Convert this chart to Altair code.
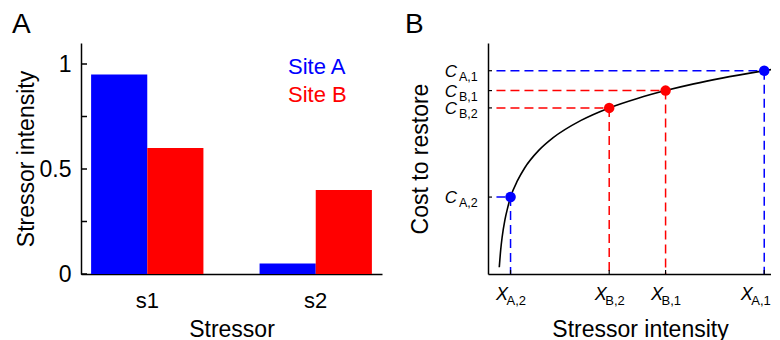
import altair as alt
import pandas as pd

FONT = "Liberation Sans, Arial, Helvetica, sans-serif"
BLUE = "#0000FF"
RED = "#FF0000"

# ---------------- data ----------------
sites = ["Site A", "Site B"]
site_colors = [BLUE, RED]
stressors = ["s1", "s2"]
site_a_intensity = [0.95, 0.05]
site_b_intensity = [0.60, 0.40]
a_tick_values = [0, 0.25, 0.5, 0.75, 1]

point_names = ["A,1", "B,1", "B,2", "A,2"]
point_sites = ["Site A", "Site B", "Site B", "Site A"]
point_intensity = [0.95, 0.60, 0.40, 0.05]
point_cost = [0.880, 0.794, 0.719, 0.333]

curve_intensity = [0.01, 0.015, 0.02, 0.03, 0.04, 0.05, 0.075, 0.1, 0.15,
                   0.2, 0.3, 0.4, 0.5, 0.6, 0.7, 0.8, 0.95, 1.0]
curve_cost = [0.029, 0.104, 0.158, 0.234, 0.288, 0.333, 0.405, 0.459, 0.535,
              0.589, 0.665, 0.719, 0.760, 0.794, 0.823, 0.848, 0.880, 0.890]

W_A, W_B, H = 301, 283, 231

color_scale = alt.Scale(domain=sites, range=site_colors)
X_TITLE_B = "Stressor intensity"
Y_TITLE_B = "Cost to restore"

# ---------------- panel A ----------------
bars_df = pd.DataFrame({
    "stressor": stressors * 2,
    "site": [sites[0]] * 2 + [sites[1]] * 2,
    "value": site_a_intensity + site_b_intensity,
})

bars = alt.Chart(bars_df).mark_bar().encode(
    x=alt.X("stressor:N",
            scale=alt.Scale(paddingInner=1 / 3, paddingOuter=0.06),
            axis=alt.Axis(title="Stressor", labelAngle=0, ticks=False, tickSize=0,
                          labelPadding=33, labelBaseline="alphabetic",
                          labelFontSize=22, titleY=62, titleBaseline="alphabetic")),
    xOffset=alt.XOffset("site:N", scale=alt.Scale(domain=sites, paddingInner=0, paddingOuter=0)),
    y=alt.Y("value:Q",
            scale=alt.Scale(domain=[0, 1.1], nice=False),
            axis=alt.Axis(title="Stressor intensity", values=a_tick_values, ticks=False,
                          tickSize=0, labelPadding=10,
                          labelExpr="datum.value == 0 ? '0' : datum.value == 0.5 ? '0.5' : datum.value == 1 ? '1' : ''",
                          titleX=-48, titleBaseline="alphabetic")),
    color=alt.Color("site:N", scale=color_scale, legend=None),
)

a_ticks = alt.Chart(pd.DataFrame({"value": a_tick_values})).mark_rule(
    color="black", strokeWidth=1.5
).encode(
    y=alt.Y("value:Q", title="Stressor intensity"),
    x=alt.value(0), x2=alt.value(6),
)

legend_layers = []
for i, s in enumerate(sites):
    legend_layers.append(
        alt.Chart(pd.DataFrame({"site": [s]})).mark_text(
            align="left", baseline="alphabetic", fontSize=22
        ).encode(
            text="site:N",
            color=alt.Color("site:N", scale=color_scale, legend=None),
            x=alt.value(207), y=alt.value(31 + 28 * i),
        )
    )

letter_a = alt.Chart(pd.DataFrame({"label": ["A"]})).mark_text(
    align="left", baseline="alphabetic", fontSize=28
).encode(text="label:N", x=alt.value(-69), y=alt.value(-10))

panel_a = alt.layer(bars, a_ticks, *legend_layers, letter_a).properties(width=W_A, height=H)

# ---------------- panel B ----------------
pts_df = pd.DataFrame({
    "name": point_names,
    "site": point_sites,
    "intensity": point_intensity,
    "cost": point_cost,
})
curve_df = pd.DataFrame({"intensity": curve_intensity, "cost": curve_cost})

xs = alt.Scale(domain=[-0.03, 0.974], nice=False, zero=False)
ys = alt.Scale(domain=[0, 1], nice=False)

curve = alt.Chart(curve_df).mark_line(
    color="black", strokeWidth=1.6, interpolate="monotone", clip=True
).encode(
    x=alt.X("intensity:Q", scale=xs,
            axis=alt.Axis(title=X_TITLE_B, labels=False, ticks=False, tickSize=0,
                          titleX=152, titleY=62, titleBaseline="alphabetic")),
    y=alt.Y("cost:Q", scale=ys,
            axis=alt.Axis(title=Y_TITLE_B, labels=False, ticks=False, tickSize=0,
                          titleX=-61, titleBaseline="alphabetic")),
)

base_pts = alt.Chart(pts_df).transform_calculate(zero="0")

hlines = base_pts.mark_rule(strokeDash=[9, 5], strokeWidth=1.5).encode(
    x=alt.X("zero:Q", title=X_TITLE_B), x2="intensity:Q",
    y=alt.Y("cost:Q", title=Y_TITLE_B),
    color=alt.Color("site:N", scale=color_scale, legend=None),
)
vlines = base_pts.mark_rule(strokeDash=[9, 5], strokeWidth=1.5).encode(
    x=alt.X("intensity:Q", title=X_TITLE_B),
    y=alt.Y("cost:Q", title=Y_TITLE_B), y2="zero:Q",
    color=alt.Color("site:N", scale=color_scale, legend=None),
)
points = alt.Chart(pts_df).mark_circle(size=110, opacity=1).encode(
    x=alt.X("intensity:Q", title=X_TITLE_B),
    y=alt.Y("cost:Q", title=Y_TITLE_B),
    color=alt.Color("site:N", scale=color_scale, legend=None),
)

b_yticks = alt.Chart(pts_df).mark_rule(color="black", strokeWidth=1.2).encode(
    y=alt.Y("cost:Q", title=Y_TITLE_B), x=alt.value(0), x2=alt.value(4)
)
b_xticks = alt.Chart(pts_df).mark_rule(color="black", strokeWidth=1.2).encode(
    x=alt.X("intensity:Q", title=X_TITLE_B), y=alt.value(H), y2=alt.value(H - 4)
)

c_main = alt.Chart(pts_df).mark_text(
    align="right", baseline="alphabetic", fontSize=17, fontStyle="italic", dy=6
).encode(x=alt.value(-31), y=alt.Y("cost:Q", title=Y_TITLE_B), text=alt.value("C"))
c_sub = alt.Chart(pts_df).mark_text(
    align="left", baseline="alphabetic", fontSize=12.5, dy=10
).encode(x=alt.value(-29), y=alt.Y("cost:Q", title=Y_TITLE_B), text="name:N")


def x_label_layers(filter_expr, shift):
    src = alt.Chart(pts_df).transform_filter(filter_expr)
    main = src.mark_text(
        align="right", baseline="alphabetic", fontSize=18, fontStyle="italic", dx=-2.5 - shift
    ).encode(x=alt.X("intensity:Q", title=X_TITLE_B), y=alt.value(H + 26), text=alt.value("X"))
    sub = src.mark_text(
        align="left", baseline="alphabetic", fontSize=13, dx=-4 - shift
    ).encode(x=alt.X("intensity:Q", title=X_TITLE_B), y=alt.value(H + 31), text="name:N")
    return [main, sub]


# the right-most label is nudged left so that it stays inside the page
x_labels = x_label_layers("datum.name != 'A,1'", 0) + x_label_layers("datum.name == 'A,1'", 9)

letter_b = alt.Chart(pd.DataFrame({"label": ["B"]})).mark_text(
    align="left", baseline="alphabetic", fontSize=28
).encode(text="label:N", x=alt.value(-83), y=alt.value(-10))

panel_b = alt.layer(
    hlines, vlines, curve, points, b_yticks, b_xticks,
    c_main, c_sub, *x_labels, letter_b
).properties(width=W_B, height=H)

chart = alt.hconcat(panel_a, panel_b, spacing=106, bounds="flush").properties(
    padding={"left": 4, "top": 3, "right": 0, "bottom": 0}
).configure_view(stroke=None).configure_axis(
    grid=False, domainColor="black", domainWidth=1.5,
    labelFont=FONT, titleFont=FONT, labelColor="black", titleColor="black",
    titleFontWeight="normal", titleFontSize=23, labelFontSize=23,
).configure_text(font=FONT, color="black")

chart.save("out.html", embed_options={"renderer": "svg", "actions": False})
